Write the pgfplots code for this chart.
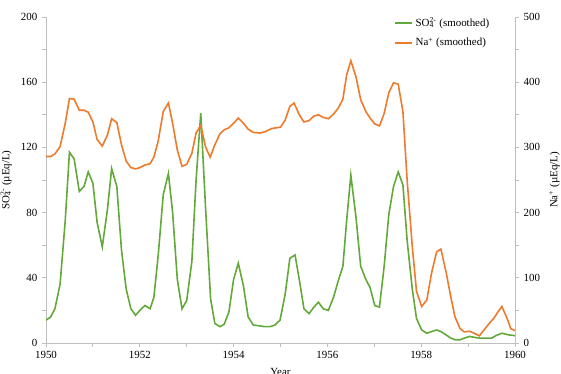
\documentclass[border=0pt]{standalone}
\usepackage{pgfplots}
\pgfplotsset{compat=1.18}
\usepackage{pgfplotstable}
\usepackage{fontspec}
\setmainfont{Liberation Serif}

\definecolor{so4green}{HTML}{62A93A}
\definecolor{naorange}{HTML}{EE7A2C}
\definecolor{axisgray}{HTML}{BFBFBF}

% Smoothed sulphate (left axis, microequivalents per litre)
\pgfplotstableread{
year    so4
1950.00 14
1950.10 16
1950.19 21
1950.30 36
1950.41 75
1950.50 117
1950.60 113
1950.71 93
1950.81 96
1950.90 105
1951.00 98
1951.09 74
1951.20 59
1951.31 82
1951.40 107
1951.51 96
1951.61 57
1951.71 33
1951.81 21
1951.91 17
1952.00 20
1952.11 23
1952.22 21
1952.30 28
1952.39 53
1952.50 91
1952.61 104
1952.70 80
1952.80 39
1952.90 21
1953.00 26
1953.11 50
1953.20 100
1953.30 141
1953.40 84
1953.51 27
1953.60 12
1953.71 10
1953.80 11.5
1953.90 19
1954.00 39
1954.10 49
1954.21 35
1954.31 16
1954.42 11
1954.56 10.5
1954.67 10
1954.78 10
1954.88 11
1954.99 14
1955.10 30
1955.20 52
1955.31 54
1955.40 39
1955.50 21
1955.61 18
1955.71 22
1955.81 25
1955.91 21
1956.02 20
1956.13 28
1956.23 38
1956.33 47
1956.41 75
1956.50 103
1956.61 77
1956.71 47
1956.82 39
1956.91 34
1957.01 23
1957.11 22
1957.21 47
1957.31 79
1957.41 96
1957.51 105
1957.61 97
1957.70 63
1957.81 33
1957.90 15
1958.01 8
1958.12 6
1958.22 7
1958.33 8
1958.42 7
1958.53 5
1958.63 3
1958.72 2
1958.83 2
1958.92 3
1959.03 4
1959.13 3.5
1959.24 3
1959.36 3
1959.50 3
1959.59 4.5
1959.72 6
1959.86 5
1960.00 4.5
}\sodata

% Smoothed sodium (right axis, microequivalents per litre)
\pgfplotstableread{
year    na
1950.00 286
1950.10 286
1950.19 290
1950.30 301
1950.41 337
1950.50 375
1950.60 374
1950.71 357
1950.81 357
1950.90 354
1951.00 339
1951.09 312
1951.20 302
1951.31 319
1951.40 344
1951.51 338
1951.61 304
1951.71 279
1951.81 269
1951.91 267
1952.00 269
1952.11 273
1952.22 275
1952.30 285
1952.39 309
1952.50 355
1952.61 368
1952.70 337
1952.80 296
1952.90 271
1953.00 274
1953.11 291
1953.20 322
1953.30 334
1953.40 301
1953.50 285
1953.60 304
1953.71 321
1953.80 327
1953.90 330
1954.00 337
1954.10 345
1954.21 337
1954.31 328
1954.42 323
1954.56 322
1954.67 324
1954.81 329
1955.00 331
1955.10 342
1955.20 363
1955.29 368
1955.40 350
1955.50 339
1955.61 341
1955.71 348
1955.81 350
1955.91 346
1956.02 344
1956.13 351
1956.23 360
1956.33 374
1956.41 411
1956.50 433
1956.61 408
1956.71 373
1956.82 355
1956.91 345
1957.01 336
1957.11 333
1957.21 352
1957.31 384
1957.41 399
1957.51 397
1957.61 355
1957.70 250
1957.81 148
1957.90 79
1958.01 56
1958.12 66
1958.22 107
1958.33 140
1958.42 144
1958.53 109
1958.63 71
1958.72 40
1958.83 22
1958.92 17
1959.03 18
1959.13 15
1959.24 11
1959.34 20
1959.45 30
1959.55 38
1959.64 48
1959.72 56
1959.83 38
1959.91 22
1960.00 19
}\nadata

\pgfplotsset{
  common/.style={
    scale only axis,
    width=351.75pt, height=244.5pt,
    xmin=1950, xmax=1960,
    axis line style={axisgray, line width=0.7pt},
    tick style={axisgray, line width=0.7pt},
    tick align=outside,
    major tick length=3pt, minor tick length=3pt,
    /pgf/number format/assume math mode=true,
    /pgf/number format/1000 sep={},
    font=\fontsize{8.2}{10}\selectfont,
    every axis label/.append style={font=\fontsize{8.2}{10}\selectfont},
  },
}

\begin{document}
\begin{tikzpicture}
\begin{axis}[
  common,
  ymin=0, ymax=200,
  axis x line*=bottom, axis y line*=left,
  xtick={1950,1952,...,1960}, minor xtick={1951,1953,...,1959},
  ytick={0,40,...,200}, minor ytick={20,60,...,180},
  xlabel={Year},
  ylabel={SO\rlap{\textsubscript{4}}\textsuperscript{2-} (µEq/L)},
  legend style={draw=none, fill=none, at={(0.733,1.015)}, anchor=north west,
    font=\fontsize{8.2}{10}\selectfont, row sep=3pt},
  legend cell align=left,
  legend image code/.code={\draw[#1] (0pt,0pt) -- (13pt,0pt);},
]
\addplot[so4green, line width=1.2pt] table[x=year, y=so4] {\sodata};
\addlegendentry{SO\rlap{\textsubscript{4}}\textsuperscript{2-} (smoothed)}
\addlegendimage{naorange, line width=1.2pt}
\addlegendentry{Na\textsuperscript{+} (smoothed)}
\end{axis}
\begin{axis}[
  common,
  ymin=0, ymax=500,
  axis y line*=right, axis x line=none,
  ytick={0,100,...,500}, minor ytick={50,150,...,450},
  ylabel={Na\textsuperscript{+} (µEq/L)},
]
\addplot[naorange, line width=1.2pt] table[x=year, y=na] {\nadata};
\end{axis}
\pgfresetboundingbox
\path[use as bounding box] (-34.5pt,-23.25pt) rectangle (386.25pt,257.25pt);
\end{tikzpicture}
\end{document}
